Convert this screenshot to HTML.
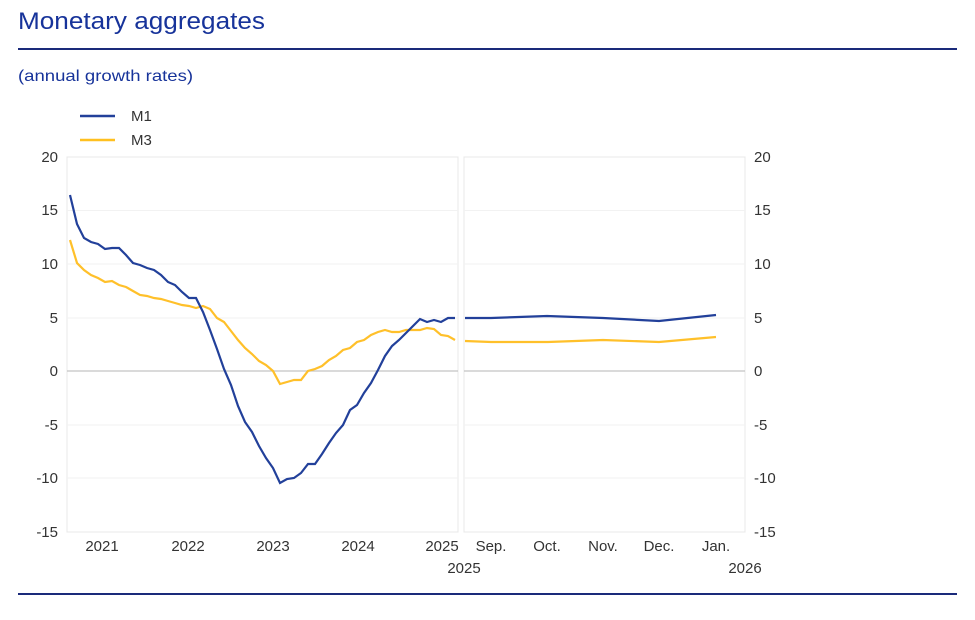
<!DOCTYPE html>
<html><head><meta charset="utf-8"><style>
body{margin:0;background:#fff;width:975px;height:615px;overflow:hidden;font-family:"Liberation Sans",sans-serif}
</style></head><body>
<svg width="975" height="615" xmlns="http://www.w3.org/2000/svg" font-family="Liberation Sans, sans-serif">
<text x="18" y="29" font-size="24" fill="#17339a" textLength="247" lengthAdjust="spacingAndGlyphs">Monetary aggregates</text>
<line x1="18" y1="49" x2="957" y2="49" stroke="#1a2a7a" stroke-width="2"/>
<text x="18" y="81" font-size="16" fill="#17339a" textLength="175" lengthAdjust="spacingAndGlyphs">(annual growth rates)</text>
<line x1="80" y1="116" x2="115" y2="116" stroke="#22409a" stroke-width="2.5"/>
<text x="131" y="121" font-size="15" fill="#333">M1</text>
<line x1="80" y1="140" x2="115" y2="140" stroke="#ffc020" stroke-width="2.5"/>
<text x="131" y="145" font-size="15" fill="#333">M3</text>
<g stroke="#f2f2f2" stroke-width="1">
<rect x="67" y="157" width="391" height="375" fill="none" stroke="#e8e8e8"/>
<rect x="464" y="157" width="281" height="375" fill="none" stroke="#e8e8e8"/>
<line x1="67" y1="210.5" x2="458" y2="210.5"/><line x1="67" y1="264" x2="458" y2="264"/><line x1="67" y1="318" x2="458" y2="318"/><line x1="67" y1="425" x2="458" y2="425"/><line x1="67" y1="478" x2="458" y2="478"/>
<line x1="464" y1="210.5" x2="745" y2="210.5"/><line x1="464" y1="264" x2="745" y2="264"/><line x1="464" y1="318" x2="745" y2="318"/><line x1="464" y1="425" x2="745" y2="425"/><line x1="464" y1="478" x2="745" y2="478"/>
</g>
<line x1="67" y1="371" x2="458" y2="371" stroke="#c4c4c4" stroke-width="1.2"/>
<line x1="464" y1="371" x2="745" y2="371" stroke="#c4c4c4" stroke-width="1.2"/>
<g font-size="15" fill="#333" text-anchor="end">
<text x="58" y="162">20</text><text x="58" y="215">15</text><text x="58" y="269">10</text><text x="58" y="323">5</text><text x="58" y="376">0</text><text x="58" y="430">-5</text><text x="58" y="483">-10</text><text x="58" y="537">-15</text>
</g>
<g font-size="15" fill="#333">
<text x="754" y="162">20</text><text x="754" y="215">15</text><text x="754" y="269">10</text><text x="754" y="323">5</text><text x="754" y="376">0</text><text x="754" y="430">-5</text><text x="754" y="483">-10</text><text x="754" y="537">-15</text>
</g>
<g font-size="15" fill="#333" text-anchor="middle">
<text x="102" y="551">2021</text><text x="188" y="551">2022</text><text x="273" y="551">2023</text><text x="358" y="551">2024</text><text x="442" y="551">2025</text>
<text x="491" y="551">Sep.</text><text x="547" y="551">Oct.</text><text x="603" y="551">Nov.</text><text x="659" y="551">Dec.</text><text x="716" y="551">Jan.</text>
<text x="464" y="573">2025</text><text x="745" y="573">2026</text>
</g>
<polyline fill="none" stroke="#ffc02a" stroke-width="2.2" points="70,240 77,263 84,270 91,275 98,278 105,282 112,281 119,285 126,287 133,291 140,295 147,296 154,298 161,299 168,301 175,303 182,305 189,306 196,308 203,306 210,309 217,318 224,322 231,331 238,340 245,348 252,354 259,361 266,365 273,371 280,384 287,382 294,380 301,380 308,371 315,369 322,366 329,360 336,356 343,350 350,348 357,342 364,340 371,335 378,332 385,330 392,332 399,332 406,330 413,330 420,330 427,328 434,329 441,335 448,336 455,340"/>
<polyline fill="none" stroke="#22409a" stroke-width="2.2" points="70,195 77,224 84,238 91,242 98,244 105,249 112,248 119,248 126,255 133,263 140,265 147,268 154,270 161,275 168,282 175,285 182,292 189,298 196,298 203,312 210,330 217,349 224,369 231,385 238,406 245,422 252,432 259,446 266,458 273,468 280,483 287,479 294,478 301,473 308,464 315,464 322,454 329,443 336,433 343,425 350,410 357,405 364,393 371,383 378,370 385,356 392,346 399,340 406,333 413,326 420,319 427,322 434,320 441,322 448,318 455,318"/>
<polyline fill="none" stroke="#ffc02a" stroke-width="2.2" points="465,341 491,342 548,342 603,340 659,342 716,337"/>
<polyline fill="none" stroke="#22409a" stroke-width="2.2" points="465,318 491,318 547,316 603,318 659,321 716,315"/>
<line x1="18" y1="594" x2="957" y2="594" stroke="#1a2a7a" stroke-width="2"/>
</svg>
</body></html>
